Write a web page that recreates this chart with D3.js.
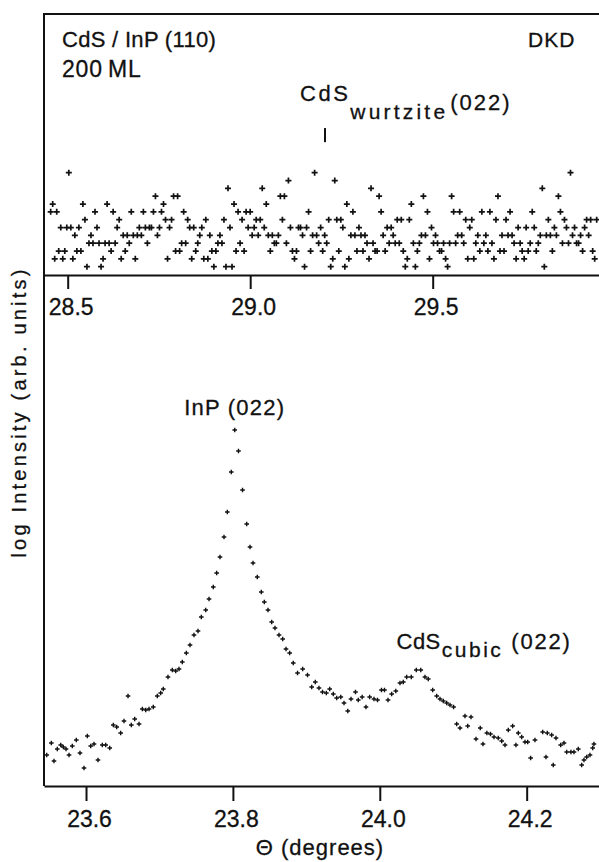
<!DOCTYPE html>
<html lang="en">
<head>
<meta charset="UTF-8">
<title>CdS/InP(110) 200 ML - DKD</title>
<script src="https://d3js.org/d3.v7.min.js"></script>
<style>
  body { margin: 0; background: #fff; }
  svg { display: block; font-family: "Liberation Sans", Arial, sans-serif; }
  .frame { stroke: #111; stroke-width: 2; fill: none; }
  .axis .domain { stroke: #111; stroke-width: 2; }
  .axis .tick line { stroke: #111; stroke-width: 2; }
  .axis text { font-size: 23px; fill: #111; font-family: "Liberation Sans", Arial, sans-serif; stroke: #111; stroke-width: 0.3; }
  .pt { fill: none; stroke: #111; }
  .ann { fill: #111; stroke: #111; stroke-width: 0.3; }
</style>
</head>
<body>
<div id="chart"></div>
<script>
const width = 599;
const height = 862;
const marginLeft = 44;
const marginTop = 14;
const splitY = 275;
const bottomY = 786;
const rightEdge = 601;

// upper panel: CdS wurtzite (022) region, scan grid + log-intensity levels
const topStart = 28.4534;
const topStep = 0.00552;
const topLevels = [
  7,8,1,7,2,5,1,2,5,12,5,1,4,2,5,2,8,6,0,3,4,3,7,5,3,0,1,3,8,3,2,7,3,5,6,1,4,2,4,3,
  7,4,1,4,5,4,7,5,3,5,5,7,9,4,5,7,8,6,1,5,6,9,2,9,2,3,7,3,6,5,1,5,2,3,4,5,1,6,1,4,
  2,0,2,3,4,3,6,0,10,5,0,8,
  2,7,3,6,2,7,5,7,4,5,6,4,6,10,5,8,4,2,4,3,3,4,9,6,9,3,11,5,2,1,2,5,5,4,0,5,7,2,4,12,
  4,3,5,2,4,3,6,0,1,11,6,2,6,5,0,8,1,4,7,4,2,5,4,2,4,3,1,10,3,2,2,9,7,4,2,5,3,5,4,3,
  6,3,6,2,0,1,6,8,3,
  0,2,3,4,9,4,7,1,5,3,4,3,2,2,3,1,0,3,9,7,3,4,7,4,3,6,1,5,6,1,3,4,2,7,3,4,2,7,3,1,
  6,9,2,4,2,6,4,7,4,3,1,5,3,2,1,5,2,3,7,5,2,3,4,10,0,4,6,4,2,5,4,9,7,3,6,5,3,12,4,5,
  3,3,4,2,5,6,4,6,2,1,6
];
const topTicks = [28.5, 29.0, 29.5];
const wurtzitePos = 29.205;

// lower panel: InP (022) and CdS cubic (022)
const botTheta = [
  23.5465,23.5528,23.5564,23.5609,23.5656,23.5691,23.5728,23.5769,23.5813,23.5868,
  23.5918,23.5973,23.6018,23.6064,23.6109,23.6163,23.6222,23.6268,23.6323,23.6372,
  23.6418,23.6472,23.6517,23.6572,23.6617,23.6663,23.6722,23.6767,23.6813,23.6858,
  23.6916,23.6971,23.7017,23.7052,23.7116,23.7175,23.7221,23.7266,23.7311,23.7366,
  23.7416,23.7470,23.7525,23.7570,23.7630,23.7675,23.7733,23.7779,23.7824,23.7879,
  23.7924,23.7978,23.8025,23.8076,23.8131,23.8188,23.8233,23.8274,23.8332,23.8387,
  23.8428,23.8478,23.8528,23.8573,23.8628,23.8678,23.8723,23.8773,23.8822,23.8880,
  23.8950,23.9016,23.9073,23.9122,23.9172,23.9220,23.9272,23.9318,23.9367,23.9413,
  23.9469,23.9513,23.9564,23.9608,23.9669,23.9707,23.9760,23.9812,23.9862,23.9921,
  23.9969,24.0023,24.0064,24.0112,24.0162,24.0218,24.0275,24.0320,24.0366,24.0429,
  24.0497,24.0558,24.0615,24.0660,24.0720,24.0775,24.0820,24.0865,24.0911,24.0956,
  24.1005,24.1047,24.1092,24.1160,24.1197,24.1242,24.1310,24.1368,24.1405,24.1458,
  24.1507,24.1555,24.1613,24.1660,24.1705,24.1750,24.1809,24.1854,24.1886,24.1932,
  24.1977,24.2014,24.2054,24.2113,24.2218,24.2263,24.2281,24.2340,24.2362,24.2399,
  24.2463,24.2508,24.2545,24.2603,24.2644,24.2703,24.2749,24.2780,24.2817,24.2862,
  24.2899,24.2916
];
const botLogI = [
  3.1,4.3,2.5,3.7,4.1,3.9,3.7,3.1,4.0,4.6,
  3.3,1.8,5.0,4.0,4.2,2.6,4.1,4.1,3.8,6.1,
  5.9,5.3,6.5,9.0,6.1,6.7,6.2,7.7,7.6,7.7,
  7.9,9.0,9.3,9.7,10.9,11.6,11.5,11.7,12.4,13.3,
  14.1,15.1,15.5,16.9,17.6,18.7,19.9,21.3,22.9,24.9,
  27.4,31.4,35.6,33.5,29.6,26.2,23.9,22.3,20.9,19.4,
  18.4,17.6,16.4,15.8,15.1,14.7,13.7,13.3,12.3,11.3,
  11.7,11.1,9.9,10.4,9.8,9.4,9.3,9.7,9.2,8.8,
  8.9,8.3,7.5,8.7,9.4,8.6,8.9,7.9,8.9,8.7,
  8.6,9.6,9.6,8.6,9.2,9.5,10.3,10.4,10.9,10.9,
  11.6,11.6,10.9,10.7,9.6,9.0,8.7,8.5,8.3,8.1,
  7.9,6.2,5.8,7.0,6.0,6.9,4.7,5.8,4.2,5.3,
  5.2,4.9,4.8,4.5,4.1,5.6,6.0,4.1,5.3,4.9,
  4.4,4.4,2.8,4.6,5.4,2.9,5.3,5.1,2.1,4.8,
  4.1,4.3,3.4,3.4,3.4,3.7,2.1,2.6,2.9,3.1,
  3.8,4.2
];
const botTicks = [23.6, 23.8, 24.0, 24.2];
const inpPeak = 23.8025;
const cubicPeak = 24.05;

const xTop = d3.scaleLinear().domain([28.4351, 29.9611]).range([marginLeft, rightEdge]);
const yTop = d3.scaleLinear().domain([-1.06, 32.26]).range([splitY, marginTop]);
const xBot = d3.scaleLinear().domain([23.5428, 24.3012]).range([marginLeft, rightEdge]);
const yBot = d3.scaleLinear().domain([0, 51.1]).range([bottomY, splitY]);

const svg = d3.select("#chart").append("svg")
  .attr("width", width)
  .attr("height", height)
  .attr("viewBox", [0, 0, width, height]);

const plus = a => `M${-a},0H${a}M0,${-a}V${a}`;

// frame
svg.append("path").attr("class", "frame")
  .attr("d", `M${rightEdge},${marginTop}H${marginLeft}V${bottomY}`);

// axes
svg.append("g").attr("class", "axis")
  .attr("transform", `translate(0,${splitY})`)
  .call(d3.axisBottom(xTop).tickValues(topTicks).tickSize(14).tickSizeOuter(0).tickFormat(d3.format(".1f")))
  .call(g => g.selectAll("text").attr("y", 40).attr("dy", null).attr("dx", 3));

svg.append("g").attr("class", "axis")
  .attr("transform", `translate(0,${bottomY})`)
  .call(d3.axisBottom(xBot).tickValues(botTicks).tickSize(15).tickSizeOuter(0).tickFormat(d3.format(".1f")))
  .call(g => g.selectAll("text").attr("y", 41).attr("dy", null).attr("dx", 3));

// points
svg.append("g")
  .selectAll("path")
  .data(topLevels)
  .join("path")
  .attr("class", "pt")
  .attr("stroke-width", 1.7)
  .attr("transform", (d, i) => `translate(${xTop(topStart + i * topStep)},${yTop(d)})`)
  .attr("d", plus(3));

svg.append("g")
  .selectAll("path")
  .data(botTheta)
  .join("path")
  .attr("class", "pt")
  .attr("stroke-width", 1.4)
  .attr("transform", (d, i) => `translate(${xBot(d)},${yBot(botLogI[i])})`)
  .attr("d", plus(2.3));

// labels
svg.append("text").attr("class", "ann")
  .attr("x", 62).attr("y", 47)
  .attr("font-size", 22)
  .attr("letter-spacing", 0.3)
  .text("CdS / InP (110)");

svg.append("text").attr("class", "ann")
  .attr("x", 62).attr("y", 77)
  .attr("font-size", 23)
  .attr("word-spacing", -2)
  .attr("letter-spacing", 0.8)
  .text("200 ML");

svg.append("text").attr("class", "ann")
  .attr("x", 528).attr("y", 47)
  .attr("font-size", 21)
  .attr("letter-spacing", 1)
  .text("DKD");

// wurtzite marker + label
svg.append("line")
  .attr("x1", xTop(wurtzitePos)).attr("x2", xTop(wurtzitePos))
  .attr("y1", yTop(15.9)).attr("y2", yTop(17.7))
  .attr("stroke", "#111").attr("stroke-width", 2);

const wz = svg.append("text").attr("class", "ann")
  .attr("x", xTop(wurtzitePos) - 25).attr("y", 101);
wz.append("tspan").attr("font-size", 22).attr("letter-spacing", 2.5).text("CdS");
wz.append("tspan").attr("font-size", 21).attr("letter-spacing", 3.2).attr("dy", 18).text("wurtzite");
wz.append("tspan").attr("font-size", 22).attr("letter-spacing", 2).attr("dx", 2).attr("dy", -9).text("(022)");

svg.append("text").attr("class", "ann")
  .attr("x", xBot(inpPeak)).attr("y", 415)
  .attr("text-anchor", "middle")
  .attr("font-size", 22)
  .attr("letter-spacing", 1.2)
  .text("InP (022)");

const cb = svg.append("text").attr("class", "ann")
  .attr("x", xBot(cubicPeak) - 20).attr("y", 649);
cb.append("tspan").attr("font-size", 22).attr("letter-spacing", 0.5).text("CdS");
cb.append("tspan").attr("font-size", 21).attr("letter-spacing", 2.5).attr("dx", 1).attr("dy", 8).text("cubic");
cb.append("tspan").attr("font-size", 22).attr("letter-spacing", 1.8).attr("dx", 8).attr("dy", -8).text("(022)");

// axis titles
svg.append("text").attr("class", "ann")
  .attr("x", 320).attr("y", 855)
  .attr("text-anchor", "middle")
  .attr("font-size", 22)
  .attr("letter-spacing", 1)
  .text("Θ (degrees)");

svg.append("text").attr("class", "ann")
  .attr("transform", "translate(26,412) rotate(-90)")
  .attr("text-anchor", "middle")
  .attr("font-size", 20)
  .attr("letter-spacing", 3.2)
  .text("log Intensity (arb. units)");
</script>
</body>
</html>
